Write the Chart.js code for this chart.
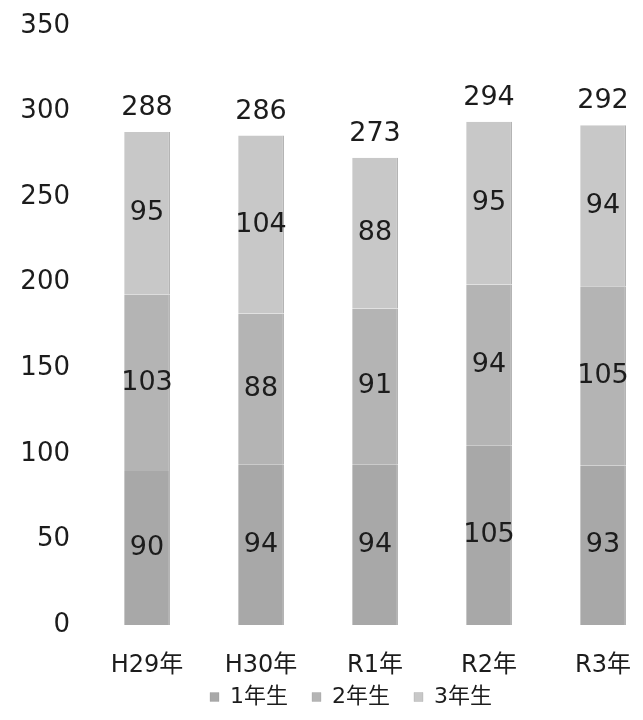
<!DOCTYPE html>
<html>
<head>
<meta charset="utf-8">
<script src="https://cdn.jsdelivr.net/npm/chart.js@4.4.0/dist/chart.umd.min.js"></script>
<style>
html,body{margin:0;padding:0;background:#fff;overflow:hidden;width:643px;height:720px;}
canvas{display:block;}
</style>
</head>
<body>
<canvas id="c" width="670" height="720"></canvas>
<script>
const categories = ['H29年', 'H30年', 'R1年', 'R2年', 'R3年'];
const seriesNames = ['1年生', '2年生', '3年生'];
const grade1 = [90, 94, 94, 105, 93];
const grade2 = [103, 88, 91, 94, 105];
const grade3 = [95, 104, 88, 95, 94];
const totals = [288, 286, 273, 294, 292];
const yTicks = [0, 50, 100, 150, 200, 250, 300, 350];

const colors = ['#a8a8a8', '#b4b4b4', '#c8c8c8'];
const FONT = '"DejaVu Sans", "Noto Sans CJK JP", sans-serif';
const TEXT = '#1c1c1c';

const labelPlugin = {
  id: 'labels',
  afterDatasetsDraw(chart) {
    const ctx = chart.ctx;
    ctx.save();
    ctx.fillStyle = TEXT;
    ctx.font = '27px ' + FONT;
    ctx.textAlign = 'center';
    ctx.textBaseline = 'middle';
    chart.data.datasets.forEach((ds, di) => {
      const meta = chart.getDatasetMeta(di);
      meta.data.forEach((bar, i) => {
        ctx.fillText(String(ds.data[i]), bar.x, (bar.y + bar.base) / 2);
      });
    });
    const last = chart.getDatasetMeta(chart.data.datasets.length - 1);
    last.data.forEach((bar, i) => {
      ctx.fillText(String(totals[i]), bar.x, bar.y - 24);
    });
    ctx.restore();
  }
};

const legendShift = {
  id: 'legendShift',
  afterLayout(chart) {
    const lg = chart.legend;
    if (lg) {
      lg.left += 21; lg.right += 21;
      lg.top -= 20; lg.bottom -= 20;
    }
  }
};

new Chart(document.getElementById('c'), {
  type: 'bar',
  data: {
    labels: categories,
    datasets: [
      { label: seriesNames[0], data: grade1, backgroundColor: colors[0], borderColor: '#8a8a8a', borderWidth: {left: 0, right: 1, top: 0, bottom: 0}, borderSkipped: false },
      { label: seriesNames[1], data: grade2, backgroundColor: colors[1], borderColor: '#8a8a8a', borderWidth: {left: 0, right: 1, top: 0, bottom: 0}, borderSkipped: false },
      { label: seriesNames[2], data: grade3, backgroundColor: colors[2], borderColor: '#8a8a8a', borderWidth: {left: 0, right: 1, top: 0, bottom: 0}, borderSkipped: false }
    ]
  },
  options: {
    responsive: false,
    animation: false,
    events: [],
    datasets: { bar: { barPercentage: 1, categoryPercentage: 0.40 } },
    layout: { padding: { top: 26, right: 10, left: 0, bottom: -18 } },
    scales: {
      x: {
        stacked: true,
        grid: { display: false, drawTicks: false },
        border: { display: false },
        afterFit(scale) { scale.height = 57; },
        ticks: { color: TEXT, font: { family: FONT, size: 24 }, padding: 26, maxRotation: 0 }
      },
      y: {
        stacked: true,
        min: 0, max: 350,
        grid: { display: false, drawTicks: false },
        border: { display: false },
        afterFit(scale) { scale.width = 90; scale.paddingTop = 0; },
        afterBuildTicks(scale) { scale.ticks = yTicks.map(v => ({ value: v })); },
        ticks: { color: TEXT, font: { family: FONT, size: 26 }, padding: 20 }
      }
    },
    plugins: {
      legend: {
        position: 'bottom',
        labels: { color: TEXT, font: { family: FONT, size: 22 }, boxWidth: 9, boxHeight: 9, padding: 24 }
      },
      tooltip: { enabled: false }
    }
  },
  plugins: [labelPlugin, legendShift]
});
</script>
</body>
</html>
